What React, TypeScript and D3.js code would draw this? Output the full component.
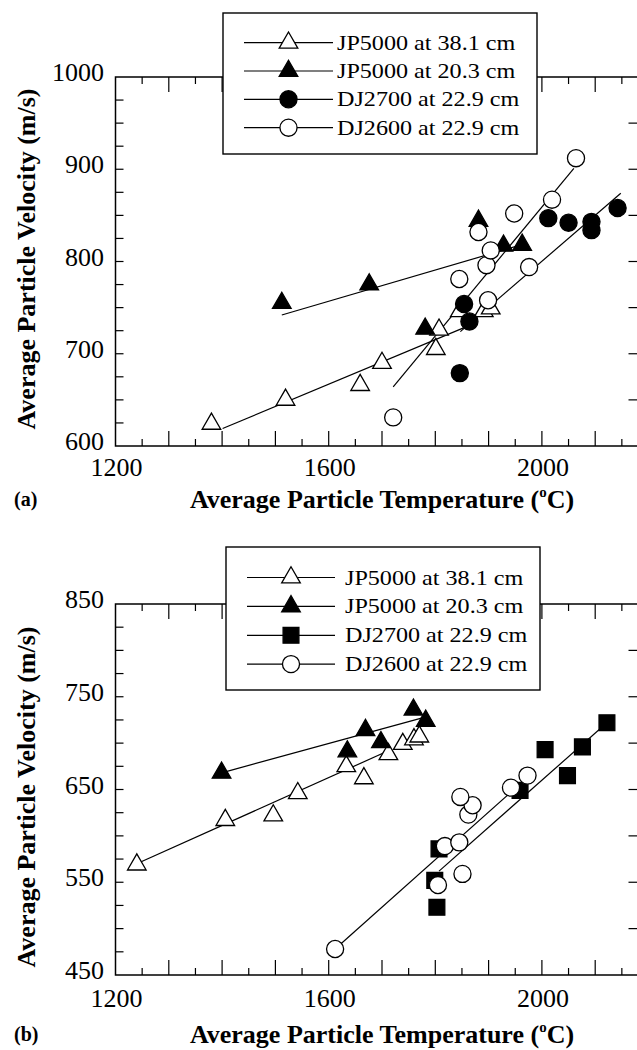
import * as d3 from "d3";

// axis ticks
const tempTicks = [1200, 1600, 2000];
const velTicksA = [600, 700, 800, 900, 1000];
const velTicksB = [450, 550, 650, 750, 850];

const legendLabels = [
  "JP5000 at 38.1 cm",
  "JP5000 at 20.3 cm",
  "DJ2700 at 22.9 cm",
  "DJ2600 at 22.9 cm",
];

// ---- panel (a) ----
const jp381A_T = [1380, 1519, 1659, 1700, 1801, 1807, 1846, 1891, 1904];
const jp381A_V = [624, 650, 666, 690, 705, 726, 746, 746, 749];
const jp203A_T = [1512, 1676, 1781, 1881, 1928, 1963];
const jp203A_V = [755, 775, 727, 844, 817, 818];
const dj2700A_T = [1846, 1854, 1864, 2012, 2050, 2093, 2093, 2142];
const dj2700A_V = [679, 754, 735, 847, 842, 843, 834, 858];
const dj2600A_T = [1721, 1845, 1881, 1896, 1899, 1904, 1948, 1976, 2019, 2064];
const dj2600A_V = [631, 781, 832, 796, 758, 812, 852, 794, 867, 912];

const jp381FitA_T = [1401, 1853];
const jp381FitA_V = [619, 728];
const jp203FitA_T = [1512, 1955];
const jp203FitA_V = [742, 817];
const dj2700FitA_T = [1847, 2148];
const dj2700FitA_V = [724, 874];
const dj2600FitA_T = [1721, 2060];
const dj2600FitA_V = [664, 901];

// ---- panel (b) ----
const jp381B_T = [1240, 1406, 1496, 1542, 1633, 1666, 1712, 1739, 1760, 1770];
const jp381B_V = [569, 617, 622, 646, 675, 662, 688, 699, 704, 707];
const jp203B_T = [1399, 1635, 1669, 1698, 1759, 1782];
const jp203B_V = [668, 691, 714, 701, 736, 724];
const dj2700B_T = [1799, 1803, 1807, 1959, 2006, 2048, 2076, 2122];
const dj2700B_V = [552, 523, 586, 649, 693, 665, 696, 722];
const dj2600B_T = [1612, 1805, 1818, 1845, 1851, 1862, 1870, 1847, 1942, 1973];
const dj2600B_V = [478, 547, 589, 593, 559, 623, 633, 642, 652, 665];

const jp381FitB_T = [1244, 1713];
const jp381FitB_V = [571, 692];
const jp203FitB_T = [1399, 1774];
const jp203FitB_V = [668, 727];
const dj2700FitB_T = [1807, 2122];
const dj2700FitB_V = [562, 722];
const dj2600FitB_T = [1612, 1965];
const dj2600FitB_V = [478, 659];

type Kind = "openTri" | "fillTri" | "fillCircle" | "openCircle" | "fillSquare";

type Series = {
  kind: Kind;
  t: number[];
  v: number[];
  fitT: number[];
  fitV: number[];
};

const seriesA: Series[] = [
  { kind: "openTri", t: jp381A_T, v: jp381A_V, fitT: jp381FitA_T, fitV: jp381FitA_V },
  { kind: "fillTri", t: jp203A_T, v: jp203A_V, fitT: jp203FitA_T, fitV: jp203FitA_V },
  { kind: "openCircle", t: dj2600A_T, v: dj2600A_V, fitT: dj2600FitA_T, fitV: dj2600FitA_V },
  { kind: "fillCircle", t: dj2700A_T, v: dj2700A_V, fitT: dj2700FitA_T, fitV: dj2700FitA_V },
];
const legendKindsA: Kind[] = ["openTri", "fillTri", "fillCircle", "openCircle"];

const seriesB: Series[] = [
  { kind: "openTri", t: jp381B_T, v: jp381B_V, fitT: jp381FitB_T, fitV: jp381FitB_V },
  { kind: "fillTri", t: jp203B_T, v: jp203B_V, fitT: jp203FitB_T, fitV: jp203FitB_V },
  { kind: "fillSquare", t: dj2700B_T, v: dj2700B_V, fitT: dj2700FitB_T, fitV: dj2700FitB_V },
  { kind: "openCircle", t: dj2600B_T, v: dj2600B_V, fitT: dj2600FitB_T, fitV: dj2600FitB_V },
];
const legendKindsB: Kind[] = ["openTri", "fillTri", "fillSquare", "openCircle"];

const FONT = "Liberation Serif";

const x = d3.scaleLinear().domain([1200, 2200]).range([115.5, 648.5]);

function markerPath(kind: Kind) {
  const sym = d3.symbol();
  if (kind === "openTri" || kind === "fillTri") return sym.type(d3.symbolTriangle).size(150)()!;
  if (kind === "fillSquare") return sym.type(d3.symbolSquare).size(250)()!;
  return sym.type(d3.symbolCircle).size(230)()!;
}

function Marker({ kind, cx, cy }: { kind: Kind; cx: number; cy: number }) {
  const filled = kind.startsWith("fill");
  return (
    <path
      d={markerPath(kind)}
      transform={`translate(${cx},${cy})`}
      fill={filled ? "#000" : "#fff"}
      stroke="#000"
      strokeWidth={1.3}
    />
  );
}

type PanelProps = {
  series: Series[];
  legendKinds: Kind[];
  yDomain: [number, number];
  yRange: [number, number];
  yLabels: number[];
  legend: { x: number; y: number; w: number; h: number; rowY: number[]; lineX: [number, number]; textX: number };
  xLabelY: number;
  titleY: number;
  yTitleY: number;
  tag: string;
};

function Panel(p: PanelProps) {
  const y = d3.scaleLinear().domain(p.yDomain).range(p.yRange);
  const [x0, x1] = x.range();
  const [yb, yt] = p.yRange;
  const xMinor = d3.range(1250, 2200, 50);
  const yMinor = d3.range(p.yDomain[0] + 25, p.yDomain[1], 25);
  const yRight = d3.range(p.yDomain[0] + 50, p.yDomain[1], 50);

  return (
    <g>
      <rect x={x0} y={yt} width={x1 - x0} height={yb - yt} fill="none" stroke="#000" strokeWidth={1.5} />
      {xMinor.map((t) => {
        const len = t % 100 === 0 ? 15 : 7;
        return (
          <g key={t}>
            <line x1={x(t)} x2={x(t)} y1={yb} y2={yb - len} stroke="#000" strokeWidth={1.2} />
            <line x1={x(t)} x2={x(t)} y1={yt} y2={yt + len} stroke="#000" strokeWidth={1.2} />
          </g>
        );
      })}
      {yMinor.map((v) => (
        <line key={v} x1={x0} x2={x0 + 8} y1={y(v)} y2={y(v)} stroke="#000" strokeWidth={1.2} />
      ))}
      {yRight.map((v) => (
        <line key={v} x1={x1} x2={x1 - 20} y1={y(v)} y2={y(v)} stroke="#000" strokeWidth={1.2} />
      ))}
      {p.yLabels.map((v) => (
        <text key={v} x={104} y={y(v) + 4} textAnchor="end" fontFamily={FONT} fontSize={26}>
          {v}
        </text>
      ))}
      {tempTicks.map((t) => (
        <text key={t} x={x(t) + 1} y={p.xLabelY} textAnchor="middle" fontFamily={FONT} fontSize={26}>
          {t}
        </text>
      ))}
      {p.series.map((s, i) => {
        const d = d3
          .line<number>()
          .x((t) => x(t))
          .y((_, j) => y(s.fitV[j]))(s.fitT);
        return <path key={i} d={d ?? ""} fill="none" stroke="#000" strokeWidth={1.2} />;
      })}
      {p.series.map((s, i) => (
        <g key={i}>
          {s.t.map((t, j) => (
            <Marker key={j} kind={s.kind} cx={x(t)} cy={y(s.v[j])} />
          ))}
        </g>
      ))}
      <rect
        x={p.legend.x}
        y={p.legend.y}
        width={p.legend.w}
        height={p.legend.h}
        fill="#fff"
        stroke="#000"
        strokeWidth={1.4}
      />
      {p.legendKinds.map((k, i) => {
        const ry = p.legend.rowY[i];
        const [lx0, lx1] = p.legend.lineX;
        return (
          <g key={i}>
            <line x1={lx0} x2={lx1} y1={ry} y2={ry} stroke="#000" strokeWidth={1.2} />
            <Marker kind={k} cx={(lx0 + lx1) / 2} cy={ry} />
            <text
              transform={`translate(${p.legend.textX},${ry + 7}) scale(1.15,1)`}
              fontFamily={FONT}
              fontSize={21}
            >
              {legendLabels[i]}
            </text>
          </g>
        );
      })}
      <text x={382} y={p.titleY} textAnchor="middle" fontFamily={FONT} fontSize={26} fontWeight="bold">
        Average Particle Temperature (
        <tspan fontSize={15} dy={-11}>
          o
        </tspan>
        <tspan dy={11}>C)</tspan>
      </text>
      <text
        transform={`translate(35,${p.yTitleY}) rotate(-90)`}
        textAnchor="middle"
        fontFamily={FONT}
        fontSize={26}
        fontWeight="bold"
      >
        Average Particle Velocity (m/s)
      </text>
      <text x={14} y={p.titleY - 2} fontFamily={FONT} fontSize={20} fontWeight="bold">
        {p.tag}
      </text>
    </g>
  );
}

export default function App() {
  return (
    <svg
      width={637}
      height={1050}
      style={{ position: "absolute", left: 0, top: 0, background: "#fff", fontFamily: FONT }}
    >
      <rect width={637} height={1050} fill="#fff" />
      <Panel
        series={seriesA}
        legendKinds={legendKindsA}
        yDomain={[600, 1000]}
        yRange={[446, 77]}
        yLabels={velTicksA}
        legend={{ x: 223, y: 13, w: 314, h: 141, rowY: [42.7, 71, 99.3, 127.7], lineX: [244, 333], textX: 337 }}
        xLabelY={476}
        titleY={508}
        yTitleY={259}
        tag="(a)"
      />
      <Panel
        series={seriesB}
        legendKinds={legendKindsB}
        yDomain={[450, 850]}
        yRange={[975, 604]}
        yLabels={velTicksB}
        legend={{ x: 226, y: 547, w: 314, h: 143, rowY: [577.5, 606.4, 635.3, 664.1], lineX: [247, 335], textX: 345 }}
        xLabelY={1007}
        titleY={1043}
        yTitleY={797}
        tag="(b)"
      />
    </svg>
  );
}
